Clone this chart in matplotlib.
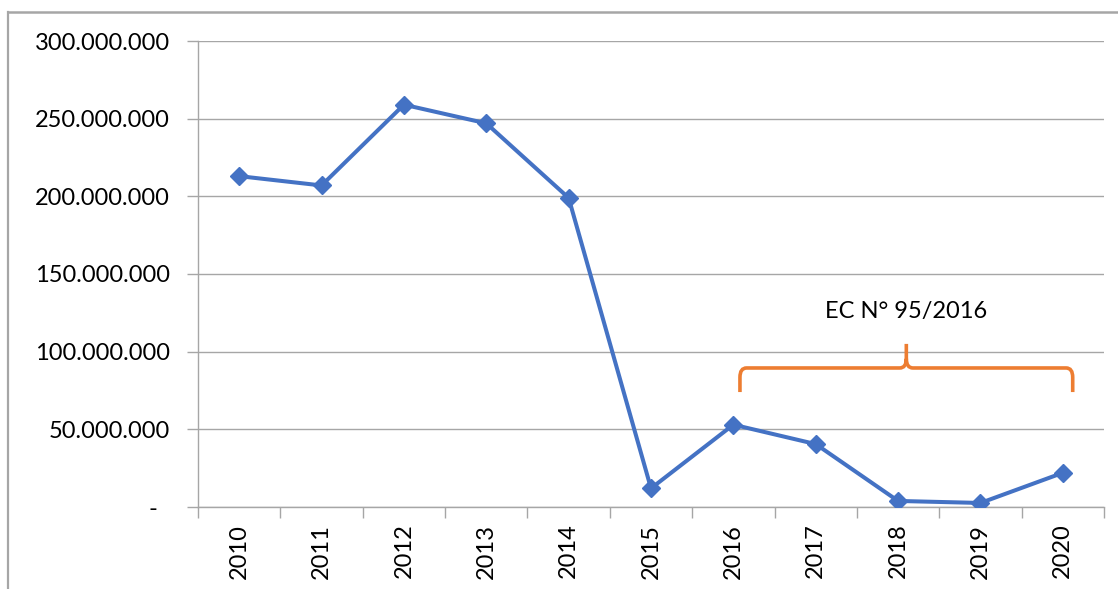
import numpy as np
import matplotlib.pyplot as plt
from matplotlib.lines import Line2D
from matplotlib.patches import PathPatch
from matplotlib.path import Path
from matplotlib.ticker import FuncFormatter, FixedLocator

plt.rcParams['font.family'] = ['Lato', 'DejaVu Sans']

years = ["2010", "2011", "2012", "2013", "2014", "2015",
         "2016", "2017", "2018", "2019", "2020"]
values = [213_000_000, 207_000_000, 259_000_000, 247_000_000, 199_000_000,
          12_000_000, 53_000_000, 40_500_000, 3_900_000, 2_600_000, 22_000_000]
y_ticks = [0, 50_000_000, 100_000_000, 150_000_000, 200_000_000,
           250_000_000, 300_000_000]
brace_label = "EC N° 95/2016"
brace_from, brace_to = "2016", "2020"

BLUE = "#4472C4"
ORANGE = "#ED7D31"
GRID = "#A6A6A6"

W, H = 1118, 589
fig = plt.figure(figsize=(W / 100, H / 100), dpi=100)
ax = fig.add_axes([198 / W, 82 / H, (1104 - 198) / W, (507 - 41) / H])

# outer frame around the chart (top and left edges)
top = 1 - 12 / H
left = 8 / W
fig.add_artist(Line2D([left, 1], [top, top], transform=fig.transFigure,
                      color=GRID, linewidth=1.8))
fig.add_artist(Line2D([left, left], [0, top], transform=fig.transFigure,
                      color=GRID, linewidth=1.6))

x = np.arange(len(years))
ax.plot(x, values, color=BLUE, linewidth=2.9, marker="D", markersize=9.5,
        zorder=3)

ax.set_xlim(-0.5, len(years) - 0.5)
ax.set_ylim(0, 300_000_000)


def fmt(v, pos):
    if v == 0:
        return "-  "
    return f"{v:,.0f}".replace(",", ".")


ax.yaxis.set_major_locator(FixedLocator(y_ticks))
ax.yaxis.set_major_formatter(FuncFormatter(fmt))
ax.grid(axis="y", color=GRID, linewidth=1)
ax.set_axisbelow(True)

ax.set_xticks(x)
ax.set_xticklabels(years, rotation=90)
ax.set_xticks(np.arange(-0.5, len(years)), minor=True)
ax.tick_params(axis="x", which="major", length=0, pad=12, labelsize=17)
ax.tick_params(axis="x", which="minor", length=8, color=GRID, width=1)
ax.tick_params(axis="y", length=8, color=GRID, width=1, pad=12, labelsize=17)

for s in ["top", "right"]:
    ax.spines[s].set_visible(False)
for s in ["left", "bottom"]:
    ax.spines[s].set_color(GRID)
    ax.spines[s].set_linewidth(1)

# curly brace over the 2016-2020 period
x0 = years.index(brace_from) + 0.08
x1 = years.index(brace_to) + 0.12
xm = (x0 + x1) / 2
y_end, y_bar, y_tip = 74e6, 89.5e6, 105e6
r = 0.08
verts = [
    (x0, y_end), (x0, y_bar - 6e6),
    (x0, y_bar), (x0 + r, y_bar),
    (xm - r, y_bar),
    (xm, y_bar), (xm, y_bar + 6e6),
    (xm, y_tip),
    (xm, y_bar + 6e6), (xm, y_bar), (xm + r, y_bar),
    (x1 - r, y_bar),
    (x1, y_bar), (x1, y_bar - 6e6),
    (x1, y_end),
]
codes = [Path.MOVETO, Path.LINETO,
         Path.CURVE3, Path.CURVE3,
         Path.LINETO,
         Path.CURVE3, Path.CURVE3,
         Path.LINETO,
         Path.MOVETO, Path.CURVE3, Path.CURVE3,
         Path.LINETO,
         Path.CURVE3, Path.CURVE3,
         Path.LINETO]
ax.add_patch(PathPatch(Path(verts, codes), fill=False, edgecolor=ORANGE,
                       linewidth=2.6, capstyle="butt", zorder=4))
ax.text(xm, 126e6, brace_label, ha="center", va="center", fontsize=17)

fig.savefig("out.png", dpi=100)
